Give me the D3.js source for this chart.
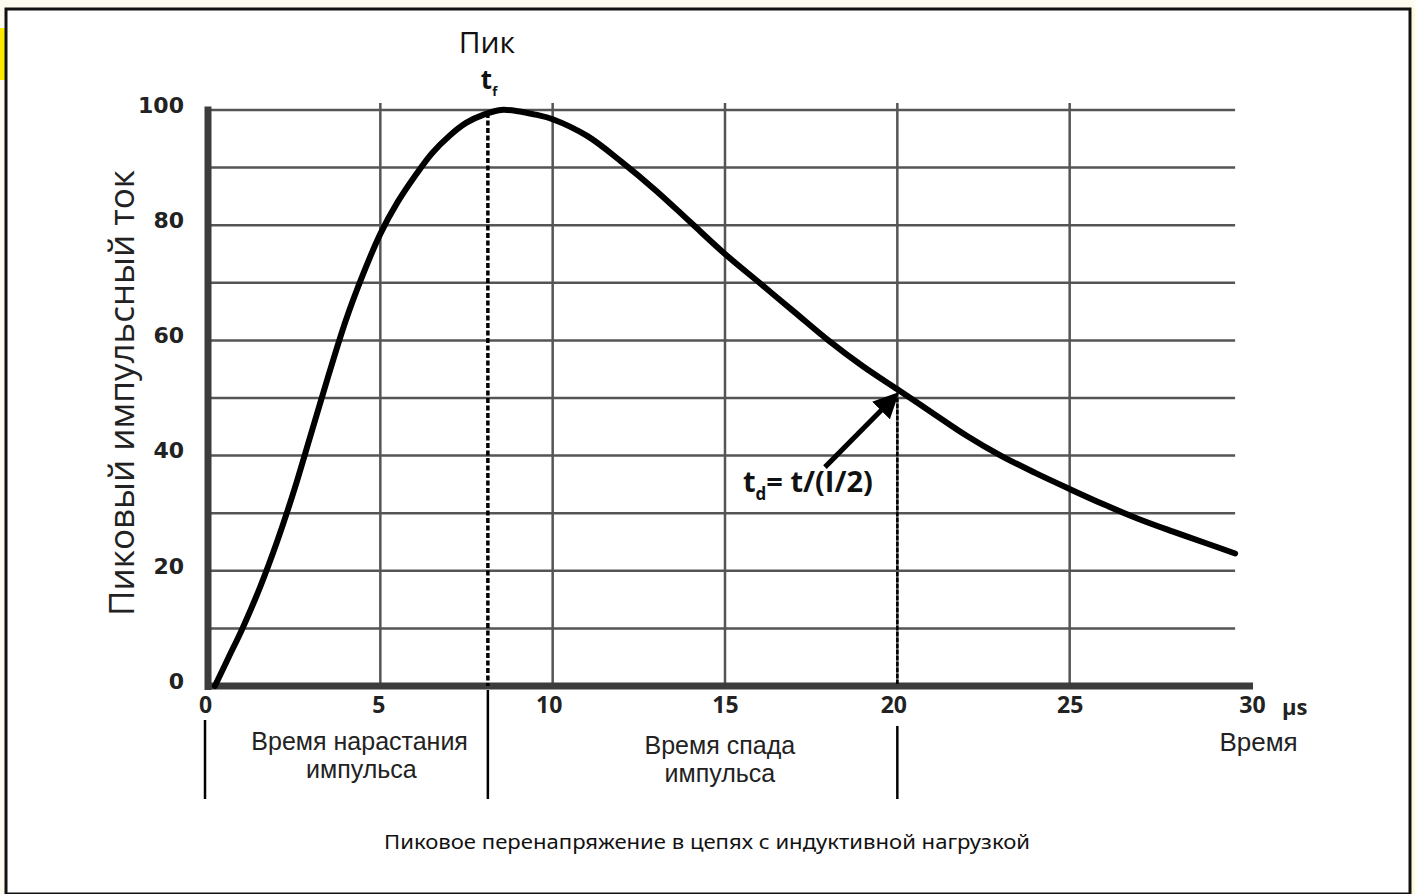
<!DOCTYPE html>
<html>
<head>
<meta charset="utf-8">
<script src="https://cdn.jsdelivr.net/npm/d3@7"></script>
<style>
  html, body { margin: 0; padding: 0; background: #fdfbf0; }
  svg { display: block; }
</style>
</head>
<body>
<svg id="chart" width="1415" height="894"></svg>
<script>
// ---- data ----
const times  = [0.2, 0.6, 1.0, 1.5, 2.0, 2.5, 3.0, 3.5, 4.0, 4.5, 5.0, 5.5, 6.0, 6.5, 7.0, 7.5, 8.0, 8.5, 9.0, 9.5, 10, 11, 12, 13, 14, 15, 16, 17, 18, 19, 20, 21, 22, 23, 24, 25, 26, 27, 28, 29, 29.8];
const values = [0, 5, 10, 17, 25, 34, 44, 54, 63.5, 71.5, 78.5, 84, 88.5, 92.5, 95.5, 97.8, 99.2, 100, 99.8, 99.2, 98.4, 95.5, 91, 86, 80.5, 75, 70, 65, 60, 55.5, 51.5, 47.5, 43.5, 40, 37, 34.2, 31.5, 29, 26.8, 24.7, 23];
const yTicks = [0, 20, 40, 60, 80, 100];
const yGrid  = [10, 20, 30, 40, 50, 60, 70, 80, 90, 100];
const xTicks = [0, 5, 10, 15, 20, 25, 30];
const xGrid  = [5, 10, 15, 20, 25];
const tPeak = 8.12;   // t_f
const tHalf = 20;     // t_d
const halfValue = 50;
const arrowFrom = [17.9, 38];
const arrowTo   = [19.95, 50.4];
const texts = {
  peak: "Пик",
  yTitle: "Пиковый импульсный ток",
  rise1: "Время нарастания", rise2: "импульса",
  fall1: "Время спада", fall2: "импульса",
  time: "Время", unit: "µs",
  caption: "Пиковое перенапряжение в цепях с индуктивной нагрузкой"
};

const svg = d3.select("#chart");
const x = d3.scaleLinear().domain([0, 30]).range([208, 1242]);
const y = d3.scaleLinear().domain([0, 100]).range([686, 110]);

// page frame
svg.append("rect").attr("x", 0).attr("y", 28).attr("width", 5).attr("height", 52).attr("fill", "#ffe800");
svg.append("rect").attr("x", 1412).attr("y", 8).attr("width", 3).attr("height", 886).attr("fill", "#fffbd8");
svg.append("rect").attr("x", 6).attr("y", 9).attr("width", 1404).attr("height", 885)
  .attr("fill", "#ffffff").attr("stroke", "#111").attr("stroke-width", 3);

const g = svg.append("g");

// horizontal grid
g.selectAll("line.hg").data(yGrid).enter().append("line")
  .attr("x1", x(0)).attr("x2", x(29.8))
  .attr("y1", d => y(d)).attr("y2", d => y(d))
  .attr("stroke", "#555").attr("stroke-width", 2.5);
// vertical grid
g.selectAll("line.vg").data(xGrid).enter().append("line")
  .attr("x1", d => x(d)).attr("x2", d => x(d))
  .attr("y1", y(101.2)).attr("y2", y(0))
  .attr("stroke", "#555").attr("stroke-width", 2.5);

// axes (thick)
g.append("line").attr("x1", x(0)).attr("x2", x(0)).attr("y1", y(100.6)).attr("y2", y(0) + 4)
  .attr("stroke", "#3c3c3c").attr("stroke-width", 7);
g.append("line").attr("x1", x(0) - 3).attr("x2", x(30.32)).attr("y1", y(0)).attr("y2", y(0))
  .attr("stroke", "#3c3c3c").attr("stroke-width", 7);

// y tick labels via d3 axis
const yAxis = d3.axisLeft(y).tickValues(yTicks).tickSize(0).tickPadding(24);
const ya = g.append("g").attr("transform", `translate(${x(0)},0)`).call(yAxis);
ya.select(".domain").remove();
ya.selectAll("text").attr("font-family", "DejaVu Sans, sans-serif").attr("font-weight", "bold")
  .attr("font-size", 22).attr("fill", "#222").attr("dy", "0.1em");

// x tick labels via d3 axis
const xAxis = d3.axisBottom(x).tickValues(xTicks).tickSize(0).tickPadding(11);
const xa = g.append("g").attr("transform", `translate(0,${y(0)})`).call(xAxis);
xa.select(".domain").remove();
xa.selectAll("text").attr("font-family", "Open Sans, sans-serif").attr("font-weight", "bold")
  .attr("font-size", 23).attr("fill", "#222")
  .attr("dx", d => d === 30 ? 10 : (d === 0 ? -3 : (d === 5 ? -2 : (d === 20 ? -4 : (d === 10 ? -4 : 0)))));
g.append("text").attr("x", x(30) + 40).attr("y", y(0) + 29).text(texts.unit)
  .attr("font-family", "Open Sans, sans-serif").attr("font-weight", "bold")
  .attr("font-size", 22).attr("fill", "#222");

// dotted marker lines
g.append("line").attr("x1", x(tPeak)).attr("x2", x(tPeak)).attr("y1", y(99.5)).attr("y2", y(0))
  .attr("stroke", "#000").attr("stroke-width", 3.5).attr("stroke-dasharray", "5,2.5");
g.append("line").attr("x1", x(tHalf)).attr("x2", x(tHalf)).attr("y1", y(halfValue)).attr("y2", y(0))
  .attr("stroke", "#000").attr("stroke-width", 2.5).attr("stroke-dasharray", "4,2");

// curve
const line = d3.line().x((d, i) => x(times[i])).y(d => y(d)).curve(d3.curveCatmullRom.alpha(0.5));
g.append("path").datum(values).attr("d", line)
  .attr("fill", "none").attr("stroke", "#000").attr("stroke-width", 6).attr("stroke-linecap", "round");

// arrow
const defs = svg.append("defs");
defs.append("marker").attr("id", "ah").attr("viewBox", "0 0 10 10").attr("refX", 8).attr("refY", 5)
  .attr("markerWidth", 5.2).attr("markerHeight", 5).attr("orient", "auto").attr("markerUnits", "strokeWidth")
  .attr("preserveAspectRatio", "none")
  .append("path").attr("d", "M0,0 L10,5 L0,10 z").attr("fill", "#000");
const ax0 = x(arrowFrom[0]), ay0 = y(arrowFrom[1]), ax1 = x(arrowTo[0]), ay1 = y(arrowTo[1]);
g.append("line").attr("x1", ax0).attr("y1", ay0).attr("x2", ax1).attr("y2", ay1)
  .attr("stroke", "#000").attr("stroke-width", 5).attr("marker-end", "url(#ah)");

// annotation text t_d = t/(I/2)
const ann = g.append("text").attr("x", 743).attr("y", 492)
  .attr("font-family", "Open Sans, sans-serif").attr("font-weight", "bold").attr("font-size", 29).attr("fill", "#111");
ann.append("tspan").text("t");
ann.append("tspan").text("d").attr("font-size", 17).attr("dy", 8);
ann.append("tspan").text("= t/(I/2)").attr("dy", -8);

// Peak label
g.append("text").attr("x", x(tPeak) - 1).attr("y", 53).attr("text-anchor", "middle").text(texts.peak)
  .attr("font-family", "Open Sans, sans-serif").attr("font-size", 30).attr("fill", "#111");
const tf = g.append("text").attr("x", x(tPeak) - 2).attr("y", 89)
  .attr("font-family", "Open Sans, sans-serif").attr("font-weight", "bold").attr("font-size", 26).attr("fill", "#111")
  .attr("text-anchor", "start").attr("dx", -5);
tf.append("tspan").text("t");
tf.append("tspan").text("f").attr("font-size", 13).attr("dy", 7);

// y title
g.append("text").attr("transform", `translate(134,${(y(0) + y(100)) / 2 - 5}) rotate(-90)`)
  .attr("text-anchor", "middle").text(texts.yTitle)
  .attr("font-family", "Open Sans, sans-serif").attr("font-size", 35).attr("fill", "#222");

// below-axis marker lines
[[0, 720], [tPeak, 690], [tHalf, 726]].forEach(([t, y1]) => {
  g.append("line").attr("x1", x(t) - (t === 0 ? 3 : 0)).attr("x2", x(t) - (t === 0 ? 3 : 0))
    .attr("y1", y1).attr("y2", 799).attr("stroke", "#000").attr("stroke-width", 2.5);
});

// phase labels
const lab = (txt, cx, by, fs) => g.append("text").attr("x", cx).attr("y", by).attr("text-anchor", "middle").text(txt)
  .attr("font-family", "Liberation Sans, Arial, sans-serif").attr("font-size", fs || 25).attr("fill", "#222");
lab(texts.rise1, x(4.4), 750);
lab(texts.rise2, x(4.45), 778);
lab(texts.fall1, x(14.85), 754);
lab(texts.fall2, x(14.85), 782);
lab(texts.time, x(30.48), 751, 26);

// caption
svg.append("text").attr("x", 707).attr("y", 849).attr("text-anchor", "middle").text(texts.caption)
  .attr("font-family", "Noto Sans, sans-serif").attr("font-size", 20).attr("fill", "#111")
  .attr("textLength", 646).attr("lengthAdjust", "spacingAndGlyphs");
</script>
</body>
</html>
